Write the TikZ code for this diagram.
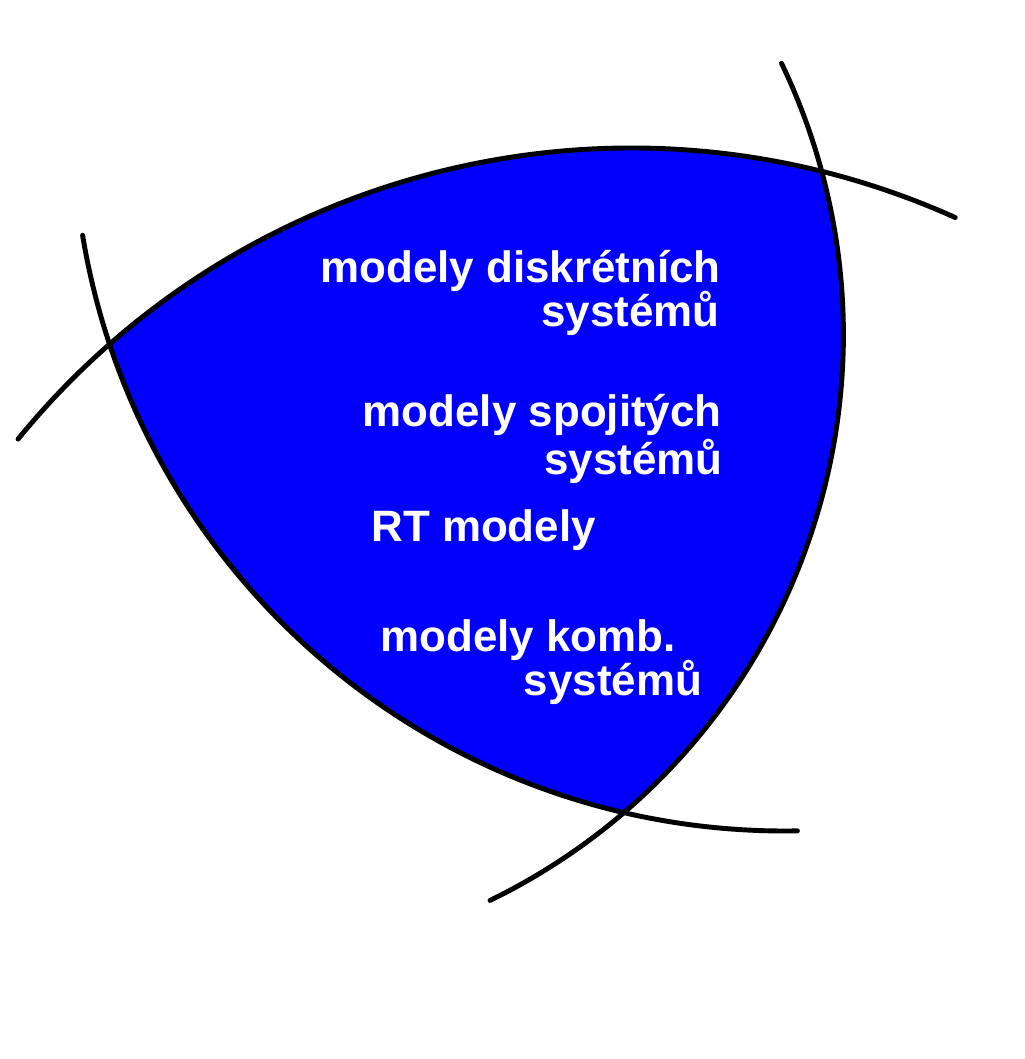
\documentclass[tikz,border=0pt]{standalone}
\usepackage{fontspec}
\setmainfont{Liberation Sans}
\definecolor{ModelBlue}{RGB}{0, 0, 252}
\usetikzlibrary{calc}

\begin{document}
\begin{tikzpicture}[font=\fontsize{25}{30}\selectfont\bfseries, lbl/.style={text=white, inner sep=0pt}, arcline/.style={line width=2.8pt, black, line cap=round}]
\useasboundingbox (0,0) rectangle (20.48,21.18);
\coordinate (cA) at (12.62,2.40);
\coordinate (cB) at (4.286,14.478);
\coordinate (cC) at (15.70,18.80);
\begin{scope}
\clip (cA) circle[radius=15.82cm];
\clip (cB) circle[radius=12.58cm];
\fill[ModelBlue] (cC) circle[radius=14.24cm];
\end{scope}
\draw[arcline] ($(cA)+(140.8:15.82cm)$) arc[start angle=140.8, end angle=65.8, radius=15.82cm];
\draw[arcline] ($(cB)+(25.6:12.58cm)$) arc[start angle=25.6, end angle=-64.0, radius=12.58cm];
\draw[arcline] ($(cC)+(189.4:14.24cm)$) arc[start angle=189.4, end angle=271.0, radius=14.24cm];
\node[lbl, anchor=base east] (disk) at (14.42,15.52) {modely diskrétních};
\node[lbl, anchor=base east] (disksys) at (14.40,14.64) {systémů};
\node[lbl, anchor=base east] (spoj) at (14.44,12.64) {modely spojitých};
\node[lbl, anchor=base east] (spojsys) at (14.46,11.68) {systémů};
\node[lbl, anchor=base west] (rt) at (7.42,10.34) {RT modely};
\node[lbl, anchor=base west] (komb) at (7.60,8.14) {modely komb.};
\node[lbl, anchor=base east] (kombsys) at (14.05,7.26) {systémů};
\end{tikzpicture}
\end{document}
